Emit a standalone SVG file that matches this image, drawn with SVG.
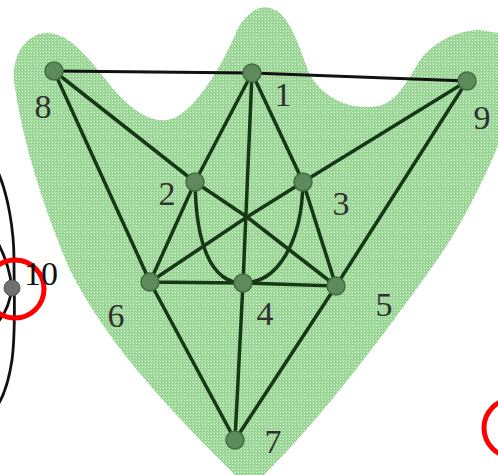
<svg xmlns="http://www.w3.org/2000/svg" width="498" height="475" viewBox="0 0 498 475">
<defs>
<pattern id="tex" width="3" height="3" patternUnits="userSpaceOnUse">
<rect width="3" height="3" fill="#96d491"/>
<rect x="1" y="1" width="1" height="1" fill="#eaf7e8"/>
<rect x="0" y="0" width="1" height="1" fill="#c2e7bd"/>
</pattern>
<style>
.e{stroke:#163816;stroke-width:3.5;fill:none;stroke-linecap:round}
.t{stroke:#111;stroke-width:2.8;fill:none}
.n{fill:#5e8b5c;stroke:#426e42;stroke-width:1.5}
.l{font-family:"Liberation Serif",serif;font-size:34px;fill:#303030;text-anchor:middle}
</style>
</defs>
<path id="blob" fill="url(#tex)" d="M47,33 C70,33 90,60 110,85 C130,110 150,122 167,120 C190,118 220,70 235,35 C245,12 260,5 270,8 C290,12 300,50 310,75 C325,100 350,108 371,107 C395,106 405,85 420,60 C435,40 460,30 480,30 L510,35 L510,115 C490,170 460,230 430,270 C380,340 320,420 261,478 L240,480 C180,420 110,350 70,270 C40,200 20,130 14,80 C12,50 30,33 47,33 Z"/>
<g id="connectors">
<path class="t" d="M54,71 L252,73 L467,81"/>
<path class="e" d="M54,71 L195,182 L247,217 L336,286"/>
<path class="e" d="M467,81 L303,182 L247,217 L150,282"/>
<path class="e" d="M54,71 L150,282 L235,440 L243,283 L252,73"/>
<path class="e" d="M467,81 L336,286 L235,440"/>
<path class="e" d="M252,73 L195,182 L150,282 L243,283 L336,286 L303,182 L252,73"/>
<path class="e" d="M195,182 C196,242 210,283 243,283"/>
<path class="e" d="M303,182 C302,242 278,283 243,283"/>
<path fill="none" stroke="#111" stroke-width="2.8" d="M-2,172 C8,195 14,230 14,260 C14,300 16,330 12,360 C9,380 4,395 -2,405"/>
<path fill="none" stroke="#111" stroke-width="2.8" d="M-2,243 C6,258 10,272 12,288 C10,302 5,314 -2,322"/>
</g>
<circle cx="15" cy="289" r="29" fill="none" stroke="#f00" stroke-width="5"/>
<circle cx="513" cy="428" r="29" fill="none" stroke="#f00" stroke-width="5"/>
<g id="n8"><circle class="n" cx="54" cy="71" r="9"/><text class="l" x="43" y="118">8</text></g>
<g id="n1"><circle class="n" cx="252" cy="73" r="9"/><text class="l" x="283" y="106">1</text></g>
<g id="n9"><circle class="n" cx="467" cy="81" r="9"/><text class="l" x="482" y="129">9</text></g>
<g id="n2"><circle class="n" cx="195" cy="182" r="9"/><text class="l" x="167" y="205">2</text></g>
<g id="n3"><circle class="n" cx="303" cy="182" r="9"/><text class="l" x="341" y="215">3</text></g>
<g id="n6"><circle class="n" cx="150" cy="282" r="9"/><text class="l" x="116" y="327">6</text></g>
<g id="n4"><circle class="n" cx="243" cy="283" r="9"/><text class="l" x="265" y="325">4</text></g>
<g id="n5"><circle class="n" cx="336" cy="286" r="9"/><text class="l" x="384" y="316">5</text></g>
<g id="n7"><circle class="n" cx="235" cy="440" r="9"/><text class="l" x="273" y="453">7</text></g>
<g id="n10"><circle cx="12" cy="288" r="8" fill="#707070" stroke="#555" stroke-width="1"/><text class="l" x="41" y="285" style="fill:#111">10</text></g>
</svg>
